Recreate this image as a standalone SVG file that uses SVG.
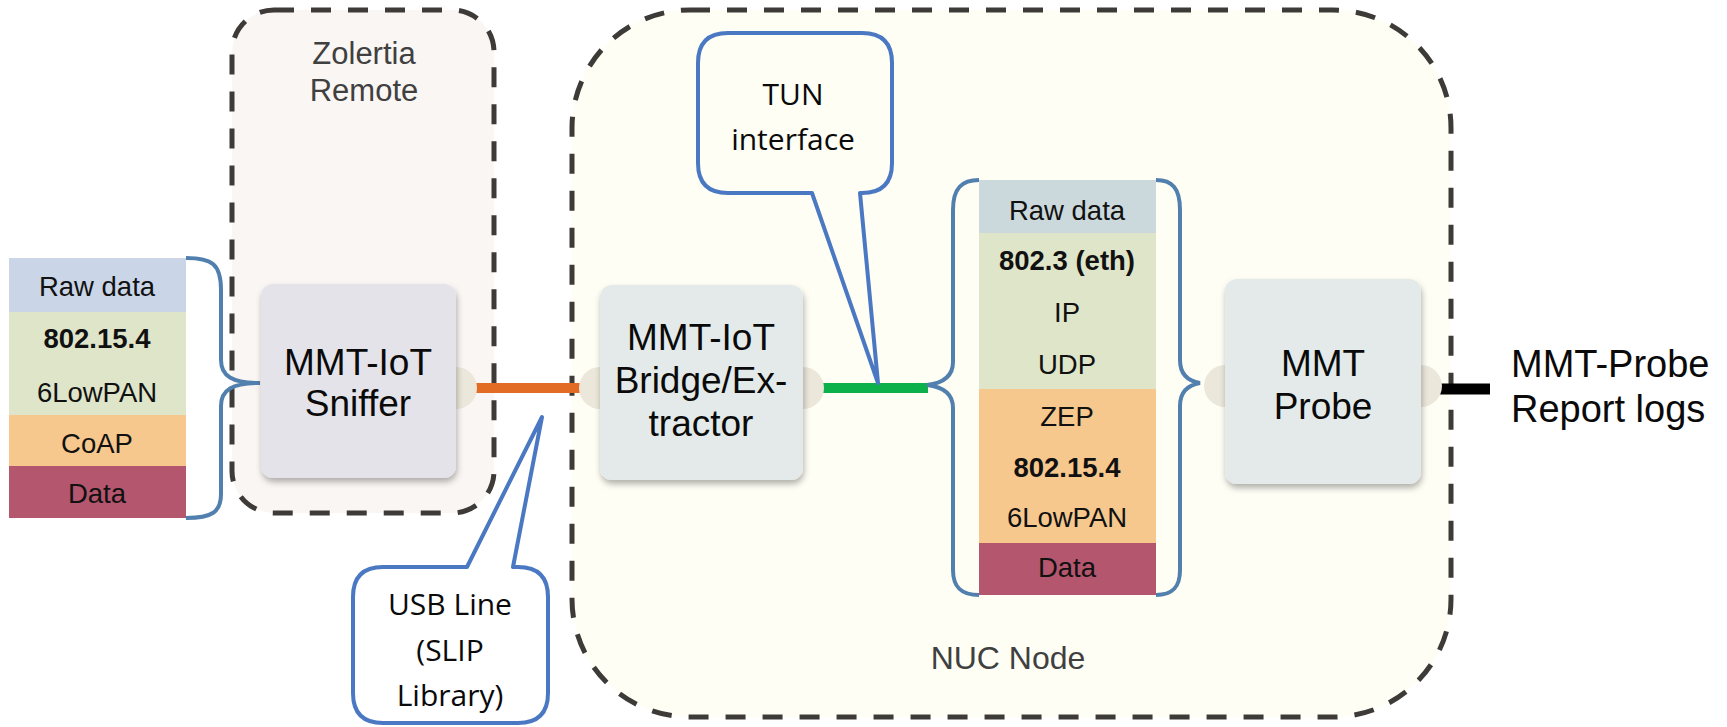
<svg xmlns="http://www.w3.org/2000/svg" width="1727" height="727" viewBox="0 0 1727 727">
<defs>
<filter id="sh" x="-10%" y="-10%" width="130%" height="130%">
<feDropShadow dx="1" dy="4" stdDeviation="3" flood-color="#000" flood-opacity="0.3"/>
</filter>
<style>
.cont{stroke:#3d3a38;stroke-width:5;stroke-dasharray:20 17;}
.clabel{font-family:"Liberation Sans",Arial,sans-serif;font-size:31px;fill:#404040;text-anchor:middle;}
.nlabel{font-family:"Liberation Sans",Arial,sans-serif;font-size:37px;fill:#0a0a0a;text-anchor:middle;}
.slabel{font-family:"Liberation Sans",Arial,sans-serif;font-size:27.5px;fill:#111;text-anchor:middle;}
.b{font-weight:bold;}
.port{fill:#ebe7db;}
.node{filter:url(#sh);}
.brace{fill:none;stroke:#5280ae;stroke-width:4;}
.callout{stroke:#4a78c2;stroke-width:4;stroke-linejoin:round;}
.ctext{font-family:"Open Sans","Noto Sans",sans-serif;font-size:30px;fill:#0a0a0a;text-anchor:middle;}
</style>
</defs>
<rect width="1727" height="727" fill="#ffffff"/>

<g id="zolertia-remote">
<rect class="cont" x="232" y="10" width="262" height="503" rx="42" fill="#faf6f3"/>
<text class="clabel" x="364" y="64">Zolertia</text>
<text class="clabel" x="364" y="101">Remote</text>
</g>

<g id="nuc-node">
<rect class="cont" x="572" y="10" width="879" height="707" rx="118" fill="#fefef5"/>
<text class="clabel" x="1008" y="669" style="font-size:32px">NUC Node</text>
</g>

<g id="left-stack">
<rect x="9" y="258" width="177" height="54" fill="#cad6e7"/>
<rect x="9" y="312" width="177" height="103" fill="#dfe5c9"/>
<rect x="9" y="415" width="177" height="51" fill="#f6c88e"/>
<rect x="9" y="466" width="177" height="52" fill="#b5566f"/>
<text class="slabel" x="97" y="296">Raw data</text>
<text class="slabel b" x="97" y="348">802.15.4</text>
<text class="slabel" x="97" y="402">6LowPAN</text>
<text class="slabel" x="97" y="453">CoAP</text>
<text class="slabel" x="97" y="503">Data</text>
</g>

<g id="middle-stack">
<rect x="979" y="180" width="177" height="53" fill="#ccd9dc"/>
<rect x="979" y="233" width="177" height="156" fill="#dfe5c9"/>
<rect x="979" y="389" width="177" height="154" fill="#f6c88e"/>
<rect x="979" y="543" width="177" height="52" fill="#b5566f"/>
<text class="slabel" x="1067" y="220">Raw data</text>
<text class="slabel b" x="1067" y="270">802.3 (eth)</text>
<text class="slabel" x="1067" y="322">IP</text>
<text class="slabel" x="1067" y="374">UDP</text>
<text class="slabel" x="1067" y="426">ZEP</text>
<text class="slabel b" x="1067" y="477">802.15.4</text>
<text class="slabel" x="1067" y="527">6LowPAN</text>
<text class="slabel" x="1067" y="577">Data</text>
</g>

<g id="connectors">
<line x1="470" y1="388" x2="590" y2="388" stroke="#e36c24" stroke-width="10"/>
<line x1="815" y1="388" x2="928" y2="388" stroke="#0cb14b" stroke-width="10"/>
<line x1="1425" y1="389" x2="1490" y2="389" stroke="#000" stroke-width="11"/>
<path class="brace" d="M186,258 C212,258 221,264 221,290 L221,360 C221,376 232,383 260,383 C232,383 221,390 221,406 L221,494 C221,512 212,518 186,518"/>
<path class="brace" d="M979,180 C962,180 953,188 953,210 L953,362 C953,376 944,383 927,385 C944,387 953,394 953,408 L953,570 C953,588 962,595 979,595"/>
<path class="brace" d="M1156,180 C1172,180 1180,188 1180,210 L1180,360 C1180,374 1188,381 1200,383 C1188,385 1180,392 1180,406 L1180,570 C1180,588 1172,595 1156,595"/>
</g>

<g id="sniffer">
<circle class="port" cx="456" cy="388" r="21"/>
<rect class="node" x="261" y="284" width="195" height="194" rx="12" fill="#e3e3e9"/>
<text class="nlabel" x="358" y="375">MMT-IoT</text>
<text class="nlabel" x="358" y="416">Sniffer</text>
</g>

<g id="bridge">
<circle class="port" cx="600" cy="388" r="21"/>
<circle class="port" cx="803" cy="388" r="21"/>
<rect class="node" x="600" y="285" width="203" height="195" rx="12" fill="#e3eae9"/>
<text class="nlabel" x="701" y="350">MMT-IoT</text>
<text class="nlabel" x="701" y="393">Bridge/Ex-</text>
<text class="nlabel" x="701" y="436">tractor</text>
</g>

<g id="probe">
<circle class="port" cx="1225" cy="386" r="21"/>
<circle class="port" cx="1421" cy="386" r="21"/>
<rect class="node" x="1225" y="279" width="196" height="205" rx="12" fill="#e3eae9"/>
<text class="nlabel" x="1323" y="376">MMT</text>
<text class="nlabel" x="1323" y="419">Probe</text>
</g>

<g id="report-logs">
<text font-family="'Liberation Sans',Arial,sans-serif" font-size="38" fill="#0a0a0a" x="1511" y="377">MMT-Probe</text>
<text font-family="'Liberation Sans',Arial,sans-serif" font-size="38" fill="#0a0a0a" x="1511" y="422">Report logs</text>
</g>

<g id="tun-callout">
<path class="callout" fill="#fefef5" d="M728,33 L862,33 Q892,33 892,63 L892,163 Q892,193 862,193 L860,193 L878,383 L812,193 L728,193 Q698,193 698,163 L698,63 Q698,33 728,33 Z"/>
<text class="ctext" x="793" y="105">TUN</text>
<text class="ctext" x="793" y="150">interface</text>
</g>

<g id="usb-callout">
<path class="callout" fill="#ffffff" d="M383,567 L467,567 L542,417 L513,567 L518,567 Q548,567 548,597 L548,693 Q548,723 518,723 L383,723 Q353,723 353,693 L353,597 Q353,567 383,567 Z"/>
<text class="ctext" x="450" y="615">USB Line</text>
<text class="ctext" x="450" y="661">(SLIP</text>
<text class="ctext" x="450" y="706">Library)</text>
</g>
</svg>
